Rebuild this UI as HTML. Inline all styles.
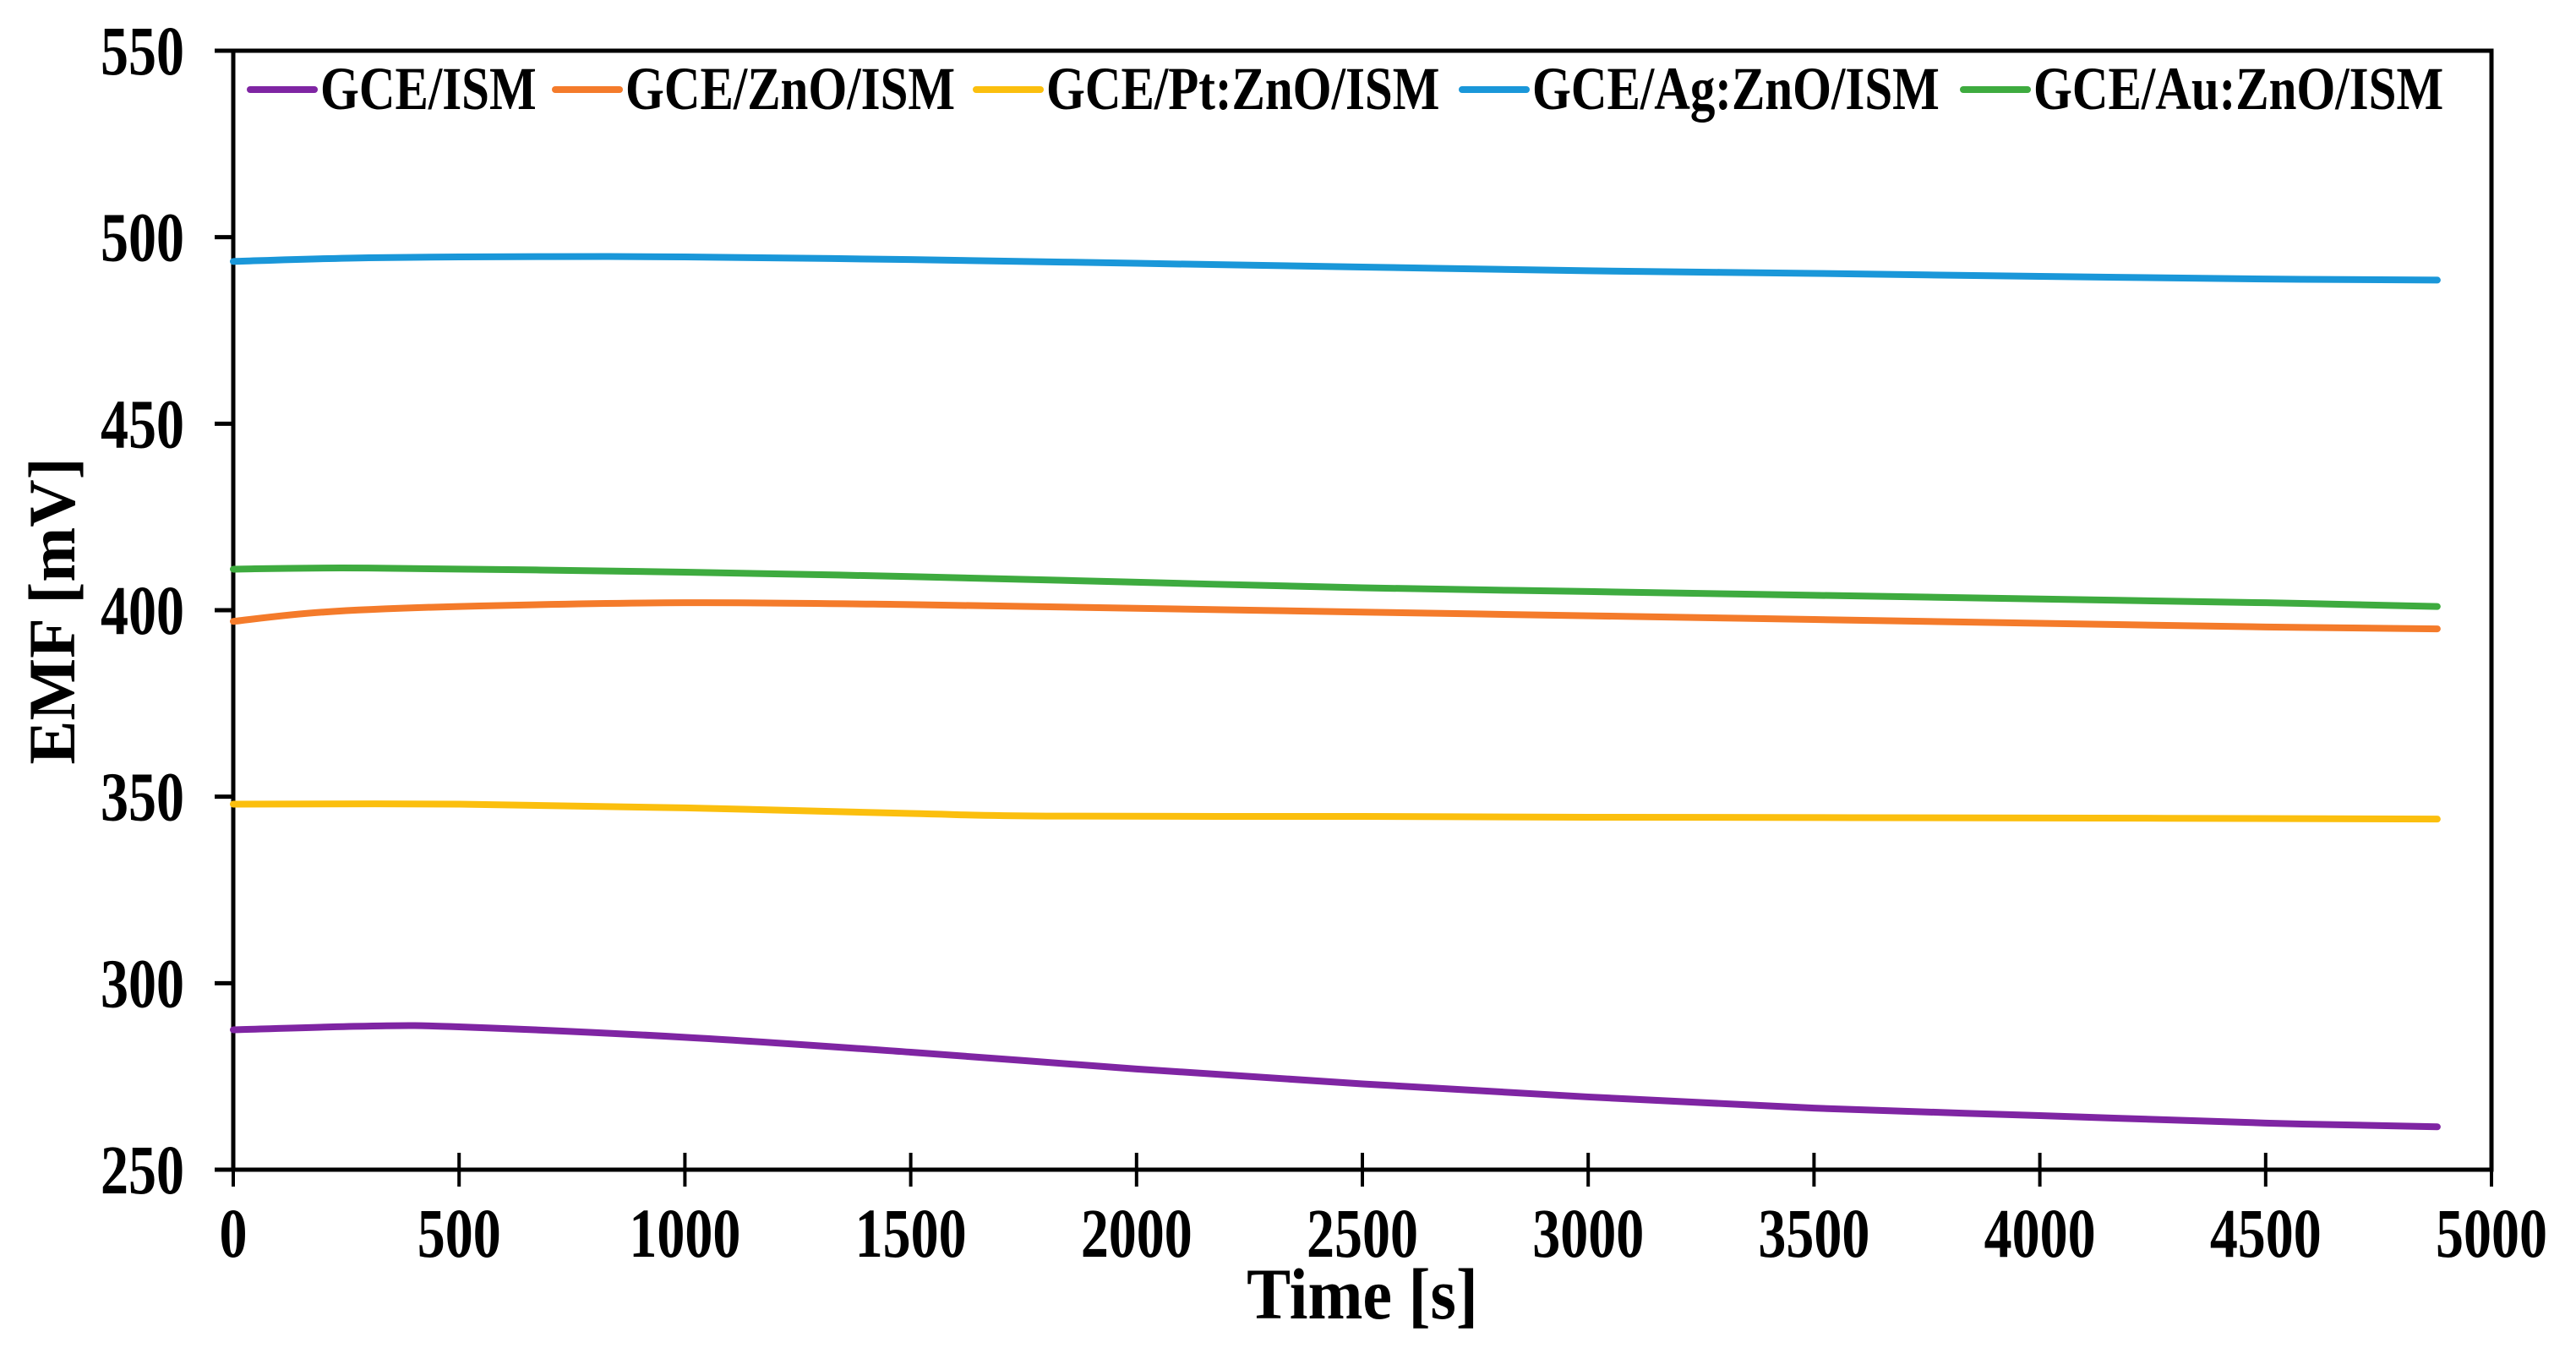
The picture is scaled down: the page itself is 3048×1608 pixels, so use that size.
<!DOCTYPE html>
<html><head><meta charset="utf-8"><style>
html,body{margin:0;padding:0;background:#fff;}
svg{display:block;font-family:"Liberation Serif",serif;font-weight:bold;}
</style></head><body>
<svg id="chart" width="3048" height="1608" viewBox="0 0 3048 1608">
<g id="axes"></g><g id="series"></g><g id="legend"></g>
<text transform="translate(1612,1560) scale(1,1.1)" font-size="78" text-anchor="middle">Time [s]</text>
<text transform="translate(88,723) rotate(-90)" font-size="78" text-anchor="middle">EMF [mV]</text>
</svg>
<script>
const xTicks=[0,500,1000,1500,2000,2500,3000,3500,4000,4500,5000];
const yTicks=[250,300,350,400,450,500,550];
const seriesNames=["GCE/ISM","GCE/ZnO/ISM","GCE/Pt:ZnO/ISM","GCE/Ag:ZnO/ISM","GCE/Au:ZnO/ISM"];
const seriesColors=["#7f25a3","#f47b2b","#fbbf0e","#1a97d9","#3eab3f"];
const tPurple=[0,300,500,1000,1500,2000,2500,3000,3500,4000,4500,4880];
const vPurple=[287.5,288.5,288.3,285.5,281.5,277,273,269.5,266.5,264.5,262.5,261.5];
const tOrange=[0,200,500,1000,1500,2000,2500,3000,3500,4000,4500,4880];
const vOrange=[397,399.5,401,402,401.5,400.5,399.5,398.5,397.5,396.5,395.5,395];
const tYellow=[0,500,1000,1500,1800,2500,3000,4000,4880];
const vYellow=[348,348,347,345.5,344.8,344.7,344.5,344.3,344];
const tBlue=[0,300,700,1000,1500,2000,2500,3000,3500,4000,4500,4880];
const vBlue=[493.5,494.5,494.8,494.7,494,493,492,491,490.3,489.5,488.8,488.5];
const tGreen=[0,300,1000,1500,2000,2500,3000,3500,4000,4500,4880];
const vGreen=[411,411.3,410.2,409,407.5,406,405,404,403,402,401];

const L=276,R=2948,T=60,B=1384;
const sx=v=>L+(v-0)/(5000-0)*(R-L);
const sy=v=>B-(v-250)/(550-250)*(B-T);
const NS="http://www.w3.org/2000/svg";
function mk(tag,attrs,parent,text){const e=document.createElementNS(NS,tag);for(const k in attrs)e.setAttribute(k,attrs[k]);if(text!==undefined)e.textContent=text;parent.appendChild(e);return e;}
const axes=document.getElementById('axes');
const frame=mk('rect',{x:L,y:T,width:R-L,height:B-T,fill:'none',stroke:'#000','stroke-width':5},axes);


yTicks.forEach(v=>{
  const ln=mk('line',{x1:L-22,x2:L,y1:sy(v),y2:sy(v),stroke:'#000','stroke-width':5},axes);
  
  
  const tx=mk('text',{transform:'translate(218,'+(sy(v)+28)+') scale(1,1.25)','font-size':66,'text-anchor':'end'},axes,String(v));
  
  
});
xTicks.forEach(v=>{
  const ln=mk('line',{x1:sx(v),x2:sx(v),y1:B-20,y2:B+20,stroke:'#000','stroke-width':4},axes);
  
  
  const tx=mk('text',{transform:'translate('+sx(v)+',1487) scale(1,1.25)','font-size':66,'text-anchor':'middle'},axes,String(v));
  
  
});
const ser=document.getElementById('series');
const data=[[tPurple,vPurple],[tOrange,vOrange],[tYellow,vYellow],[tBlue,vBlue],[tGreen,vGreen]];
data.forEach((d,i)=>{
  const pts=d[0].map((t,j)=>[sx(t),sy(d[1][j])]);
  let p='M'+pts[0][0]+','+pts[0][1];
  for(let j=0;j<pts.length-1;j++){
    const p0=pts[Math.max(0,j-1)],p1=pts[j],p2=pts[j+1],p3=pts[Math.min(pts.length-1,j+2)];
    const c1=[p1[0]+(p2[0]-p0[0])/6,p1[1]+(p2[1]-p0[1])/6];
    const c2=[p2[0]-(p3[0]-p1[0])/6,p2[1]-(p3[1]-p1[1])/6];
    p+=' C'+c1+' '+c2+' '+p2;
  }
  const path=mk('path',{d:p,fill:'none',stroke:seriesColors[i],'stroke-width':8,'stroke-linecap':'round'},ser);
  
  
});
const leg=document.getElementById('legend');
const legLineX=[296,657,1155,1730,2323];
seriesNames.forEach((n,i)=>{
  const g=mk('g',{},leg);
  
  
  mk('line',{x1:legLineX[i],x2:legLineX[i]+76,y1:106,y2:106,stroke:seriesColors[i],'stroke-width':8,'stroke-linecap':'round'},g);
  mk('text',{transform:'translate('+(legLineX[i]+83)+',129) scale(1,1.22)','font-size':59},g,n);
});
</script>
</body></html>
